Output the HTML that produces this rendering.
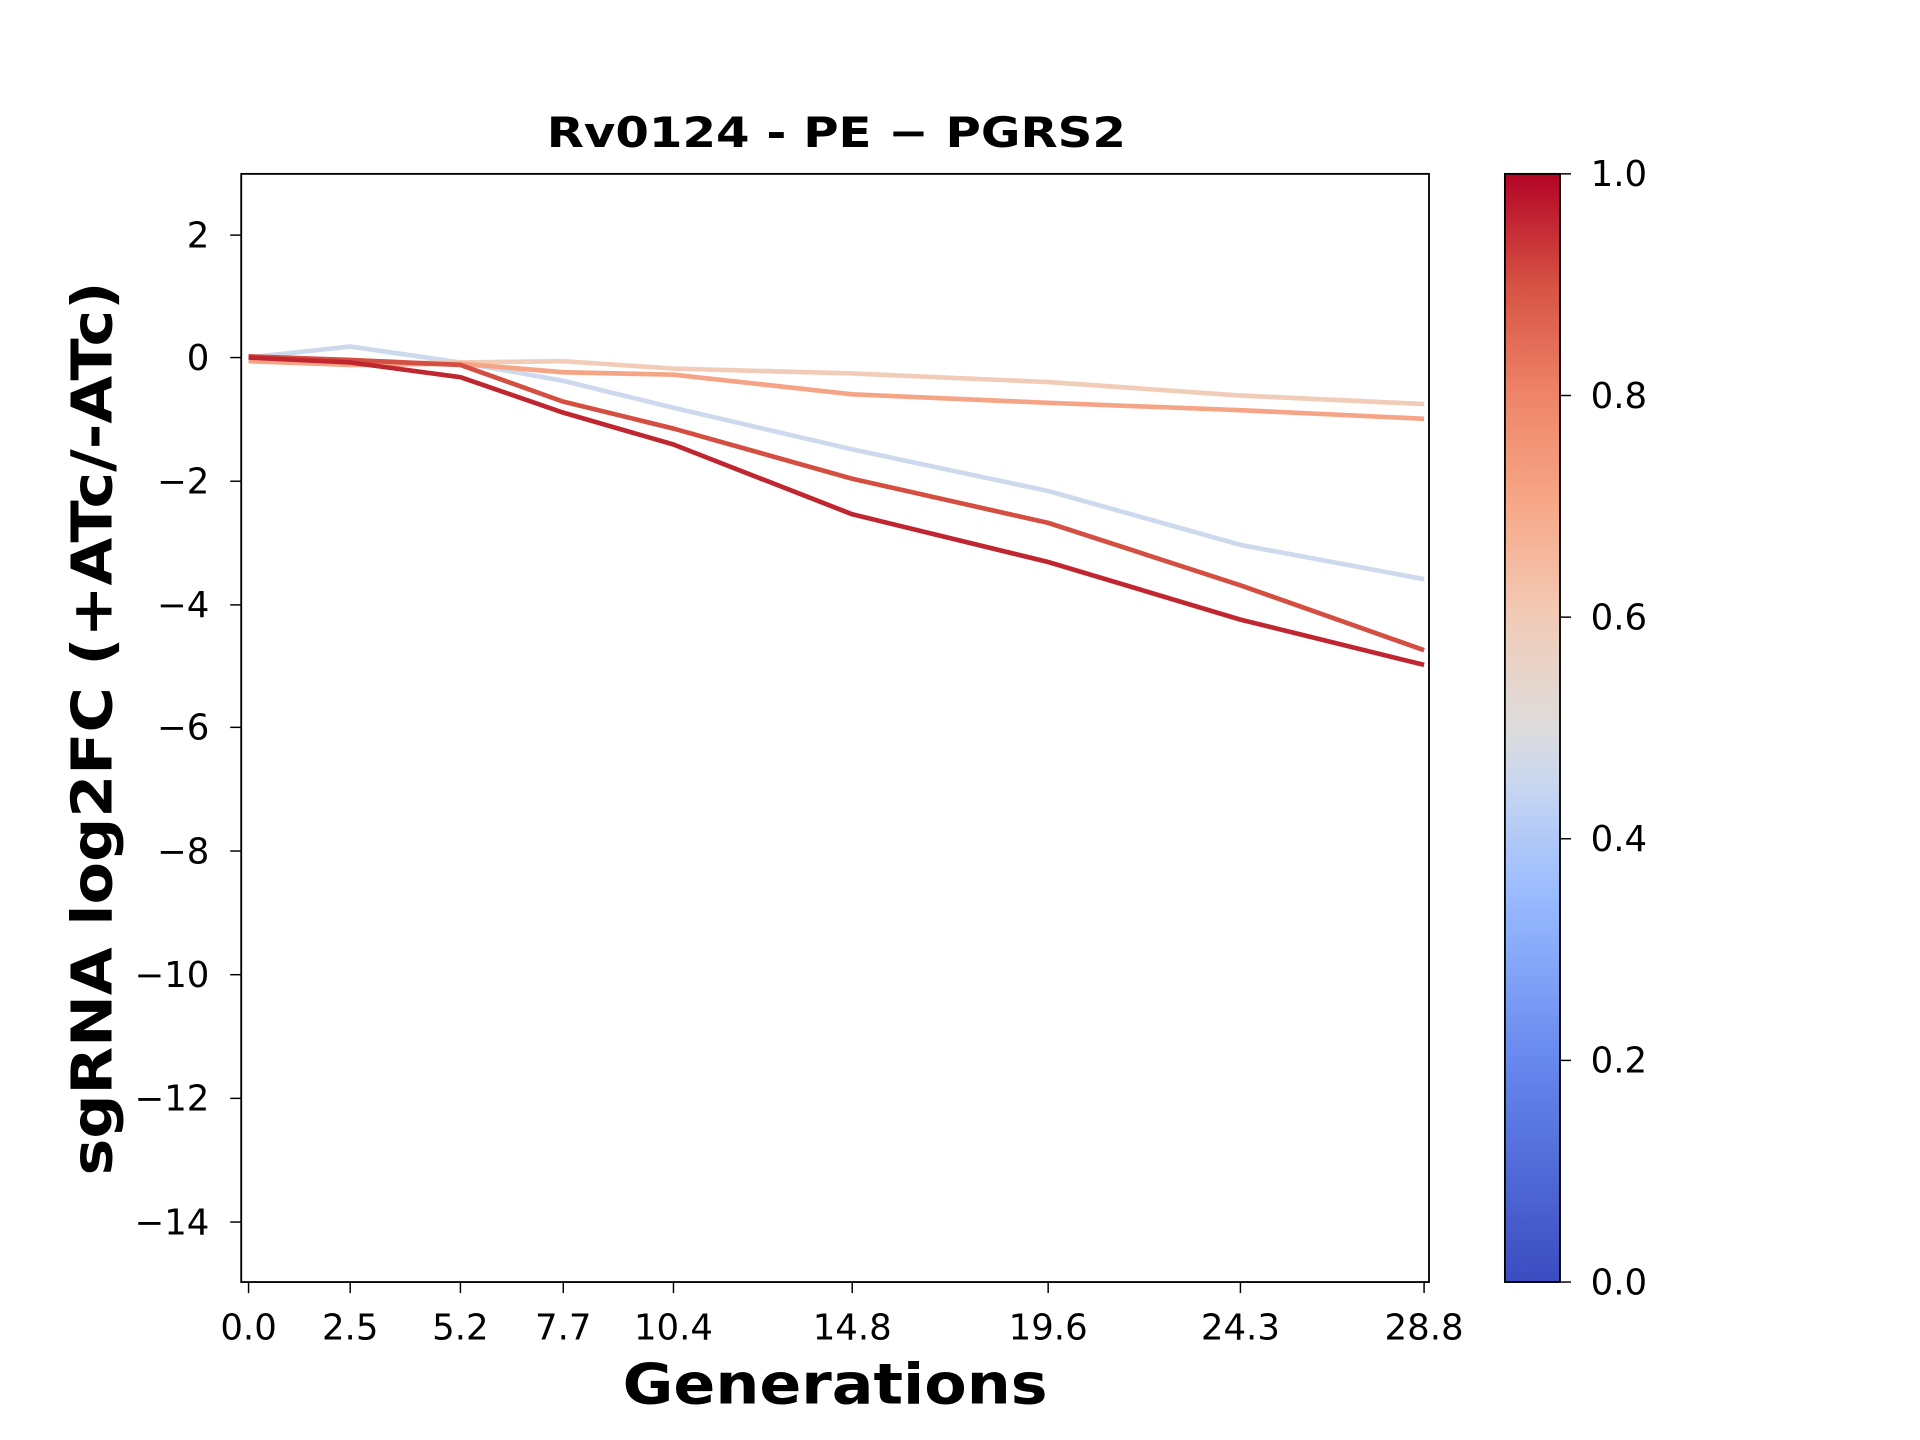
<!DOCTYPE html>
<html><head><style>body{margin:0;background:#fff}svg{display:block}</style></head><body>
<svg width="1920" height="1440" viewBox="0 0 1568 1176" preserveAspectRatio="none" xmlns="http://www.w3.org/2000/svg" font-family="DejaVu Sans, Liberation Sans, sans-serif">
<defs><linearGradient id="cb" x1="0" y1="1" x2="0" y2="0">
<stop offset="0" stop-color="#3b4cc0"/><stop offset="0.2" stop-color="#6788ee"/><stop offset="0.35" stop-color="#9abbff"/><stop offset="0.45" stop-color="#c9d7f0"/><stop offset="0.5" stop-color="#dddcdc"/><stop offset="0.6" stop-color="#f2cbb7"/><stop offset="0.7" stop-color="#f7a889"/><stop offset="0.8" stop-color="#ee8468"/><stop offset="0.9" stop-color="#d65244"/><stop offset="1" stop-color="#b40426"/></linearGradient></defs>
<rect width="1568" height="1176" fill="#fff"/>
<text x="683" y="120" text-anchor="middle" font-size="34" font-weight="bold" textLength="473" lengthAdjust="spacingAndGlyphs">Rv0124 - PE − PGRS2</text>
<g fill="none" stroke-width="3.8" stroke-linejoin="round">
<polyline stroke="#cdd9ec" points="203,292 286,283 376,296 460,311 550,333 696,367 856,401 1013,445 1163,473"/>
<polyline stroke="#f1cdb9" points="203,294 286,297 376,296 460,295 550,301 696,305 856,312 1013,323 1163,330"/>
<polyline stroke="#f5a586" points="203,295 286,298 376,297 460,304 550,306 696,322 856,329 1013,335 1163,342"/>
<polyline stroke="#d44e41" points="203,291 286,294 376,298 460,328 550,350 696,391 856,427 1013,478 1163,531"/>
<polyline stroke="#c0262f" points="203,292 286,296 376,308 460,337 550,363 696,420 856,459 1013,506 1163,543"/>
</g>
<rect x="197" y="142" width="970" height="905" fill="none" stroke="#000" stroke-width="1.5"/>
<g stroke="#000" stroke-width="1.2">
<line x1="188" x2="197" y1="192" y2="192"/><line x1="188" x2="197" y1="292" y2="292"/><line x1="188" x2="197" y1="393" y2="393"/><line x1="188" x2="197" y1="494" y2="494"/><line x1="188" x2="197" y1="594" y2="594"/><line x1="188" x2="197" y1="695" y2="695"/><line x1="188" x2="197" y1="796" y2="796"/><line x1="188" x2="197" y1="897" y2="897"/><line x1="188" x2="197" y1="998" y2="998"/>
<line x1="203" x2="203" y1="1047" y2="1056"/><line x1="286" x2="286" y1="1047" y2="1056"/><line x1="376" x2="376" y1="1047" y2="1056"/><line x1="460" x2="460" y1="1047" y2="1056"/><line x1="550" x2="550" y1="1047" y2="1056"/><line x1="696" x2="696" y1="1047" y2="1056"/><line x1="856" x2="856" y1="1047" y2="1056"/><line x1="1013" x2="1013" y1="1047" y2="1056"/><line x1="1163" x2="1163" y1="1047" y2="1056"/>
</g>
<g font-size="29" text-anchor="end">
<text x="171" y="202">2</text><text x="171" y="302">0</text><text x="171" y="403">−2</text><text x="171" y="504">−4</text><text x="171" y="604">−6</text><text x="171" y="705">−8</text><text x="171" y="806">−10</text><text x="171" y="907">−12</text><text x="171" y="1008">−14</text>
</g>
<g font-size="29" text-anchor="middle">
<text x="203" y="1094">0.0</text><text x="286" y="1094">2.5</text><text x="376" y="1094">5.2</text><text x="460" y="1094">7.7</text><text x="550" y="1094">10.4</text><text x="696" y="1094">14.8</text><text x="856" y="1094">19.6</text><text x="1013" y="1094">24.3</text><text x="1163" y="1094">28.8</text>
</g>
<text x="682" y="1146" text-anchor="middle" font-size="46" font-weight="bold" textLength="347" lengthAdjust="spacingAndGlyphs">Generations</text>
<text transform="translate(91,595) rotate(-90)" text-anchor="middle" font-size="46" font-weight="bold" textLength="730" lengthAdjust="spacingAndGlyphs">sgRNA log2FC (+ATc/-ATc)</text>
<rect x="1229" y="142" width="45" height="905" fill="url(#cb)" stroke="#000" stroke-width="1.5"/>
<g stroke="#000" stroke-width="1.2">
<line x1="1274" x2="1283" y1="142" y2="142"/><line x1="1274" x2="1283" y1="323" y2="323"/><line x1="1274" x2="1283" y1="504" y2="504"/><line x1="1274" x2="1283" y1="685" y2="685"/><line x1="1274" x2="1283" y1="866" y2="866"/><line x1="1274" x2="1283" y1="1047" y2="1047"/>
</g>
<g font-size="29">
<text x="1299" y="152">1.0</text><text x="1299" y="333">0.8</text><text x="1299" y="514">0.6</text><text x="1299" y="695">0.4</text><text x="1299" y="876">0.2</text><text x="1299" y="1057">0.0</text>
</g>
</svg>
</body></html>
